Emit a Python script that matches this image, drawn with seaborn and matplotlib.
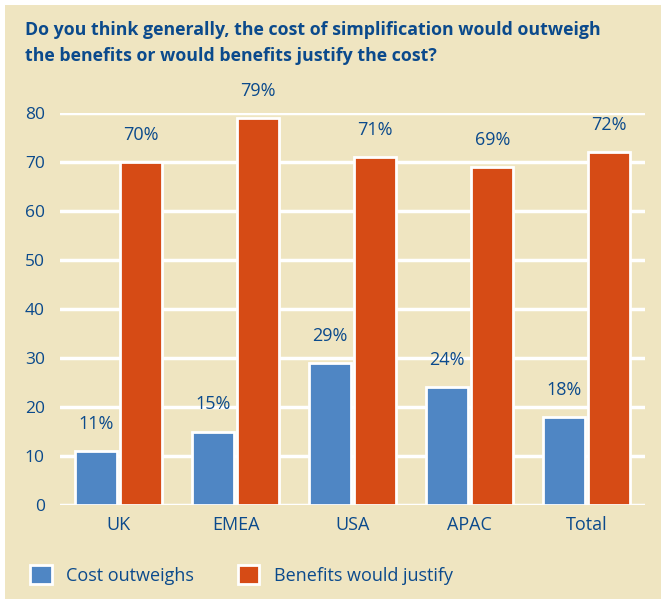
import matplotlib
matplotlib.use("Agg")
import matplotlib.pyplot as plt
import seaborn as sns
import pandas as pd
from matplotlib.patches import Rectangle, Patch

regions = ["UK", "EMEA", "USA", "APAC", "Total"]
cost_outweighs = [11, 15, 29, 24, 18]
benefits_justify = [70, 79, 71, 69, 72]
series_names = ["Cost outweighs", "Benefits would justify"]
yticks = [0, 10, 20, 30, 40, 50, 60, 70, 80]
title = "Do you think generally, the cost of simplification would outweigh\nthe benefits or would benefits justify the cost?"

BG = "#EFE5C1"
BLUE = "#4F86C4"
ORANGE = "#D64B15"
NAVY = "#0B4A8C"

df = pd.DataFrame({
    "region": regions * 2,
    "value": cost_outweighs + benefits_justify,
    "series": [series_names[0]] * len(regions) + [series_names[1]] * len(regions),
})

sns.set_theme(style="white")
plt.rcParams["font.family"] = ["Open Sans", "DejaVu Sans"]

fig = plt.figure(figsize=(6.61, 5.99), dpi=100, facecolor="white")
fig.patches.append(Rectangle((5 / 661, 0), 1, 1 - 5 / 599, transform=fig.transFigure,
                             facecolor=BG, edgecolor="none", zorder=-10))
ax = fig.add_axes([60 / 661, 1 - 505 / 599, (645 - 60) / 661, (505 - 113) / 599])
ax.set_facecolor("none")

sns.barplot(data=df, x="region", y="value", hue="series", order=regions,
            hue_order=series_names, palette=[BLUE, ORANGE], saturation=1,
            width=0.78, gap=0.08, edgecolor="white", linewidth=2, ax=ax, zorder=3)

ax.set_ylim(0, 80)
ax.set_xlim(-0.5, 4.5)
ax.set_yticks(yticks)
ax.set_yticklabels([str(t) for t in yticks])
ax.yaxis.grid(True, color="white", linewidth=2.5, zorder=0)
ax.set_axisbelow(True)
for s in ax.spines.values():
    s.set_visible(False)
ax.tick_params(axis="y", length=0, pad=11, labelsize=12.5, labelcolor=NAVY)
ax.tick_params(axis="x", length=0, pad=8, labelsize=13, labelcolor=NAVY)
ax.set_xlabel("")
ax.set_ylabel("")

for cont in ax.containers:
    labels = ax.bar_label(cont, fmt="%d%%", padding=13, color=NAVY, fontsize=13)
    for t in labels:
        t.set_clip_on(False)

ax.get_legend().remove()
handles = [Patch(facecolor=BLUE, edgecolor="white", linewidth=2),
           Patch(facecolor=ORANGE, edgecolor="white", linewidth=2)]
fig.legend(handles, series_names, loc="center left", bbox_to_anchor=(14 / 661, 1 - 575 / 599),
           ncol=2, frameon=False, fontsize=13, labelcolor=NAVY, handlelength=1.2,
           handleheight=1.2, handletextpad=0.8, columnspacing=2.4)

fig.text(25 / 661, 1 - 21 / 599, title, ha="left", va="top", fontsize=12.8,
         fontweight="bold", color=NAVY, linespacing=1.55)

fig.savefig("out.png", dpi=100, facecolor=fig.get_facecolor())
